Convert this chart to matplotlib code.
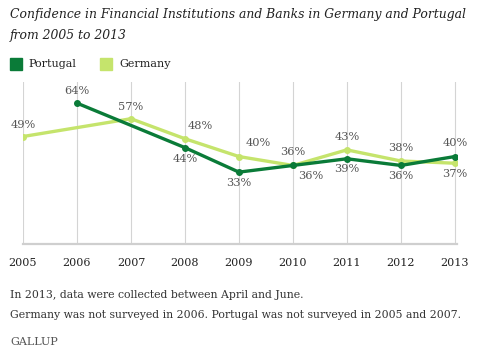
import matplotlib
matplotlib.use("Agg")
import matplotlib.pyplot as plt
from matplotlib.patches import Rectangle

years = [2005, 2006, 2007, 2008, 2009, 2010, 2011, 2012, 2013]
portugal_years = [2006, 2008, 2009, 2010, 2011, 2012, 2013]
portugal_vals = [64, 44, 33, 36, 39, 36, 40]
germany_years = [2005, 2007, 2008, 2009, 2010, 2011, 2012, 2013]
germany_vals = [49, 57, 48, 40, 36, 43, 38, 37]

title = "Confidence in Financial Institutions and Banks in Germany and Portugal\nfrom 2005 to 2013"
notes = ["In 2013, data were collected between April and June.",
         "Germany was not surveyed in 2006. Portugal was not surveyed in 2005 and 2007."]

PT_COLOR = "#0a7b38"
DE_COLOR = "#c5e46c"
TXT = "#555555"
FONT = "DejaVu Serif"

fig = plt.figure(figsize=(4.78, 3.54), dpi=100)
W, H = 478, 354
ax = fig.add_axes([23 / W, 1 - 244 / H, (457 - 23) / W, (244 - 82) / H])

ax.set_xlim(2005, 2013.04)
ax.set_ylim(0.7, 73.5)
for y in years:
    ax.axvline(y, color="#d4d4d4", lw=0.8, zorder=0)
for s in ["top", "right", "left"]:
    ax.spines[s].set_visible(False)
ax.spines["bottom"].set_color("#cfcfcf")
ax.spines["bottom"].set_linewidth(1.6)
ax.set_yticks([])
ax.set_xticks(years)
ax.set_xticklabels([str(y) for y in years], fontfamily=FONT, fontsize=8, color="#222222")
ax.tick_params(axis="x", length=0, pad=10)

ax.plot(germany_years, germany_vals, color=DE_COLOR, lw=2.4, marker="o", ms=4, zorder=3, solid_capstyle="round")
ax.plot(portugal_years, portugal_vals, color=PT_COLOR, lw=2.4, marker="o", ms=4, zorder=4, solid_capstyle="round")

# label offsets (pixels) per point
de_off = {2005: (0, 12), 2007: (0, 12), 2008: (15, 13), 2009: (19, 14), 2010: (0, 13),
          2011: (0, 13), 2012: (0, 13), 2013: (0, -11)}
pt_off = {2006: (0, 12), 2008: (0, -11), 2009: (0, -11), 2010: (18, -11), 2011: (0, -10),
          2012: (0, -11), 2013: (0, 14)}
for yr, v in zip(germany_years, germany_vals):
    dx, dy = de_off[yr]
    ax.annotate(f"{v}%", (yr, v), xytext=(dx, dy), textcoords="offset pixels",
                ha="center", va="center", fontfamily=FONT, fontsize=8.2, color=TXT, zorder=5)
for yr, v in zip(portugal_years, portugal_vals):
    dx, dy = pt_off[yr]
    ax.annotate(f"{v}%", (yr, v), xytext=(dx, dy), textcoords="offset pixels",
                ha="center", va="center", fontfamily=FONT, fontsize=8.2, color=TXT, zorder=5)

fig.text(10 / W, 1 - 8 / H, title, ha="left", va="top", fontfamily=FONT, style="italic",
         fontsize=8.9, color="#222222", linespacing=1.85)

# legend
fig.patches.append(Rectangle((10 / W, 1 - 70 / H), 12 / W, 12 / H, transform=fig.transFigure,
                             color=PT_COLOR, figure=fig))
fig.text(28 / W, 1 - 64 / H, "Portugal", ha="left", va="center", fontfamily=FONT, fontsize=8, color="#222222")
fig.patches.append(Rectangle((100 / W, 1 - 70 / H), 12 / W, 12 / H, transform=fig.transFigure,
                             color=DE_COLOR, figure=fig))
fig.text(119 / W, 1 - 64 / H, "Germany", ha="left", va="center", fontfamily=FONT, fontsize=8, color="#222222")

fig.text(10 / W, 1 - 295 / H, notes[0], ha="left", va="center", fontfamily=FONT, fontsize=7.8, color="#333333")
fig.text(10 / W, 1 - 315 / H, notes[1], ha="left", va="center", fontfamily=FONT, fontsize=7.8, color="#333333")
fig.text(10 / W, 1 - 342 / H, "GALLUP", ha="left", va="center", fontfamily=FONT, fontsize=8, color="#555555")

fig.savefig("out.png", dpi=100)
